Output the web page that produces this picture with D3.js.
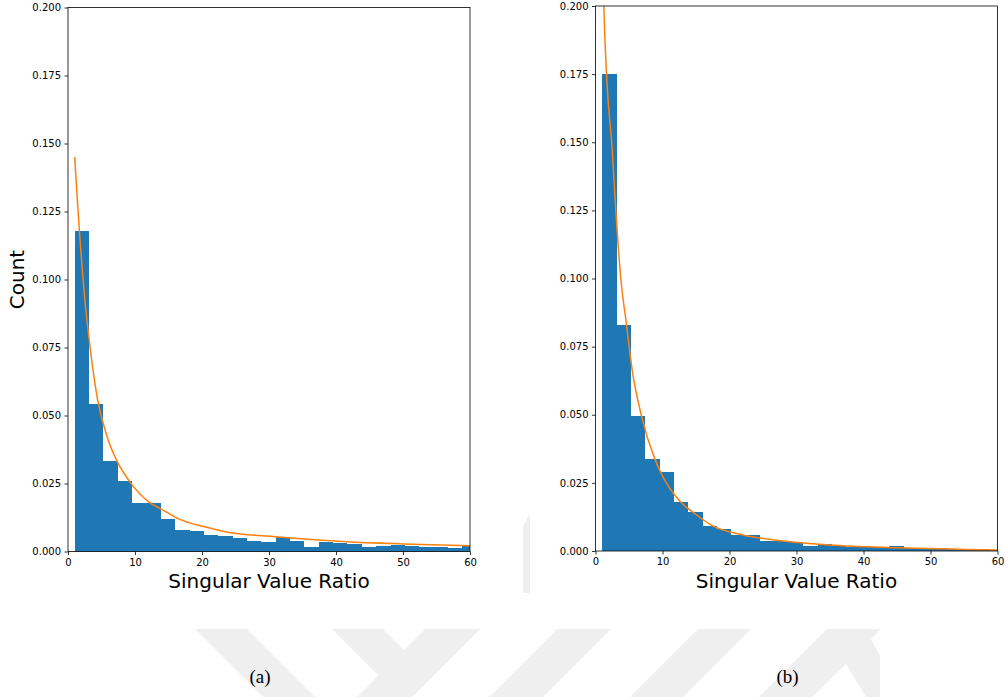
<!DOCTYPE html>
<html>
<head>
<meta charset="utf-8">
<script src="https://cdn.jsdelivr.net/npm/d3@7"></script>
<style>
  html, body { margin: 0; padding: 0; background: #fff; }
  svg { display: block; }
</style>
</head>
<body>
<svg id="chart" width="1005" height="697"></svg>
<script>
// ---------------- data ----------------
const binEdges = [1.0, 3.14, 5.29, 7.43, 9.57, 11.71, 13.86, 16.0, 18.14, 20.29,
  22.43, 24.57, 26.71, 28.86, 31.0, 33.14, 35.29, 37.43, 39.57, 41.71,
  43.86, 46.0, 48.14, 50.29, 52.43, 54.57, 56.71, 58.86, 61.0];

const countsA = [0.1178, 0.0542, 0.0332, 0.0259, 0.0179, 0.0179, 0.0119, 0.0080, 0.0077, 0.0062,
  0.0058, 0.0050, 0.0037, 0.0035, 0.0053, 0.0040, 0.0016, 0.0034, 0.0033, 0.0029,
  0.0016, 0.0020, 0.0023, 0.0021, 0.0016, 0.0018, 0.0012, 0.0022];

const countsB = [0.1750, 0.0829, 0.0495, 0.0338, 0.0290, 0.0180, 0.0143, 0.0092, 0.0081, 0.0060,
  0.0058, 0.0037, 0.0037, 0.0033, 0.0020, 0.0026, 0.0020, 0.0016, 0.0015, 0.0013,
  0.0019, 0.0011, 0.0010, 0.0010, 0.0008, 0.0007, 0.0006, 0.0005];

const fitA_x = [1.0, 1.4, 1.7, 2.5, 3.3, 4.4, 6.0, 7.3, 9.2, 12.2, 14.0, 16.5, 20.4, 23.7, 31.0, 41.6, 50.0, 60.0];
const fitA_y = [0.145, 0.129, 0.118, 0.093, 0.075, 0.056, 0.041, 0.0333, 0.0257, 0.0180, 0.0155, 0.0120, 0.0091, 0.0072, 0.0054, 0.0036, 0.0028, 0.0021];

const fitB_x = [1.1, 1.24, 1.64, 2.5, 3.03, 3.78, 4.63, 5.5, 6.87, 8.85, 9.7, 12.7, 14.5, 17.5, 22.0, 28.0, 35.0, 45.0, 60.0];
const fitB_y = [0.215, 0.200, 0.175, 0.147, 0.125, 0.100, 0.083, 0.066, 0.0495, 0.0338, 0.029, 0.018, 0.0143, 0.0092, 0.0059, 0.0037, 0.0022, 0.0012, 0.0004];

const xTicks = [0, 10, 20, 30, 40, 50, 60];
const yTicks = [0, 0.025, 0.05, 0.075, 0.1, 0.125, 0.15, 0.175, 0.2];
const xLabel = "Singular Value Ratio";
const yLabel = "Count";
const captions = ["(a)", "(b)"];

// ---------------- drawing ----------------
const svg = d3.select("#chart");
const BAR = "#1f77b4", FIT = "#ff7f0e";

// faint background watermark (decorative)
const wm = svg.append("g").attr("fill", "#efefef");
const wmShapes = [
  [[195,629],[247,629],[315,697],[263,697]],
  [[332,629],[383,629],[404,650],[425,629],[480,629],[412,697],[357,697],[378.5,675.5]],
  [[557,629],[611,629],[543,697],[489,697]],
  [[698,629],[751,629],[683,697],[630,697]],
  [[827,629],[881,629],[871,639],[880,656],[880,697],[866,697],[846,664],[813,697],[759,697]],
  [[523,527],[530,513],[530,593],[523,593]]
];
wm.selectAll("polygon").data(wmShapes).join("polygon")
  .attr("points", d => d.map(p => p.join(",")).join(" "));

function panel(opts) {
  const { x0, x1, y0, y1, counts, fx, fy, caption, showY, id } = opts;
  const x = d3.scaleLinear().domain([0, 60]).range([x0, x1]);
  const y = d3.scaleLinear().domain([0, 0.2]).range([y1, y0]);
  const g = svg.append("g");

  g.append("clipPath").attr("id", id).append("rect")
    .attr("x", x0).attr("y", y0).attr("width", x1 - x0).attr("height", y1 - y0);

  const plot = g.append("g").attr("clip-path", `url(#${id})`);
  const bins = counts.map((c, i) => ({ a: binEdges[i], b: binEdges[i + 1], c }));
  plot.selectAll("rect.bar").data(bins).join("rect")
    .attr("class", "bar")
    .attr("x", d => Math.round(x(d.a)))
    .attr("width", d => Math.round(x(d.b)) - Math.round(x(d.a)))
    .attr("y", d => y(d.c))
    .attr("height", d => y(0) - y(d.c))
    .attr("shape-rendering", "crispEdges")
    .attr("fill", BAR);

  const pts = fx.map((v, i) => [v, fy[i]]);
  plot.append("path")
    .datum(pts)
    .attr("fill", "none")
    .attr("stroke", FIT)
    .attr("stroke-width", 1.5)
    .attr("d", d3.line().x(d => x(d[0])).y(d => y(d[1])).curve(d3.curveMonotoneX));

  // spines
  g.append("rect").attr("x", x0).attr("y", y0).attr("width", x1 - x0).attr("height", y1 - y0)
    .attr("fill", "none").attr("stroke", "#000").attr("stroke-width", 0.8);

  const xAxis = g.append("g").attr("transform", `translate(0,${y1})`)
    .call(d3.axisBottom(x).tickValues(xTicks).tickSize(3.5).tickPadding(3.5).tickSizeOuter(0).tickFormat(d3.format("d")));
  const yAxis = g.append("g").attr("transform", `translate(${x0},0)`)
    .call(d3.axisLeft(y).tickValues(yTicks).tickSize(3.5).tickPadding(3.5).tickSizeOuter(0).tickFormat(d3.format(".3f")));
  [xAxis, yAxis].forEach(a => {
    a.select(".domain").remove();
    a.selectAll(".tick line").attr("stroke", "#000").attr("stroke-width", 0.8);
    a.selectAll(".tick text").attr("fill", "#000")
      .style("font-family", "'DejaVu Sans', sans-serif").style("font-size", "10px");
  });

  g.append("text")
    .attr("x", (x0 + x1) / 2).attr("y", 588)
    .attr("text-anchor", "middle")
    .style("font-family", "'DejaVu Sans', sans-serif").style("font-size", "20px")
    .text(xLabel);

  if (showY) {
    g.append("text")
      .attr("transform", `translate(24,${(y0 + y1) / 2}) rotate(-90)`)
      .attr("text-anchor", "middle")
      .style("font-family", "'DejaVu Sans', sans-serif").style("font-size", "20px")
      .text(yLabel);
  }

  g.append("text")
    .attr("x", (x0 + x1) / 2 - 9).attr("y", 683)
    .attr("text-anchor", "middle")
    .style("font-family", "'Liberation Serif', 'Times New Roman', serif").style("font-size", "19px")
    .text(caption);
}

panel({ x0: 68, x1: 470, y0: 7.5, y1: 551.5, counts: countsA, fx: fitA_x, fy: fitA_y, caption: captions[0], showY: true, id: "clipA" });
panel({ x0: 595.5, x1: 997.5, y0: 6, y1: 551, counts: countsB, fx: fitB_x, fy: fitB_y, caption: captions[1], showY: false, id: "clipB" });
</script>
</body>
</html>
